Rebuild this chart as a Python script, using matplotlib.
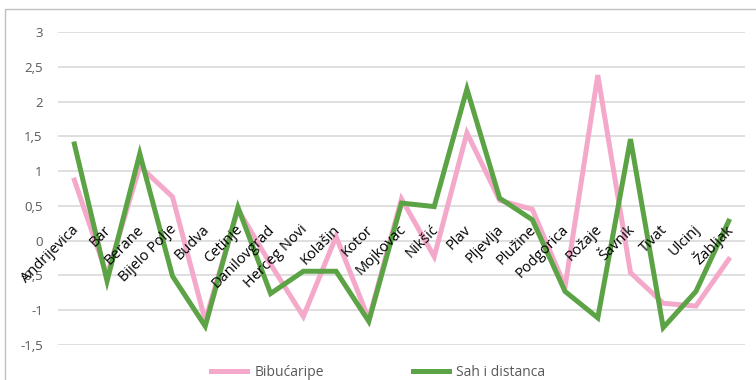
import matplotlib
matplotlib.use("Agg")
import matplotlib.pyplot as plt
from matplotlib.patches import Rectangle
from matplotlib.ticker import FuncFormatter

categories = ['Andrijevica', 'Bar', 'Berane', 'Bijelo Polje', 'Budva', 'Cetinje',
              'Danilovgrad', 'Herceg Novi', 'Kolašin', 'Kotor', 'Mojkovac', 'Nikšić',
              'Plav', 'Pljevlja', 'Plužine', 'Podgorica', 'Rožaje', 'Šavnik', 'Tivat',
              'Ulcinj', 'Žabljak']
bibucaripe = [0.87, -0.5, 1.07, 0.63, -1.15, 0.45, -0.34, -1.09, 0.06, -1.13, 0.60,
              -0.23, 1.55, 0.58, 0.45, -0.66, 2.38, -0.46, -0.90, -0.94, -0.27]
sah_i_distanca = [1.39, -0.58, 1.25, -0.51, -1.23, 0.48, -0.76, -0.44, -0.44, -1.16, 0.54,
                  0.49, 2.18, 0.61, 0.30, -0.73, -1.11, 1.46, -1.25, -0.73, 0.28]
series_names = ['Bibućaripe', 'Sah i distanca']
yticks = [-1.5, -1, -0.5, 0, 0.5, 1, 1.5, 2, 2.5, 3]

plt.rcParams['font.family'] = ['Open Sans', 'DejaVu Sans']

fig = plt.figure(figsize=(7.56, 3.8), dpi=100)
ax = fig.add_axes([58/756, 1-345/380, (745-58)/756, (345-32)/380])

x = list(range(len(categories)))
ax.plot(x, bibucaripe, color='#F4A9CA', lw=3.6, label=series_names[0],
        solid_joinstyle='miter', zorder=3)
ax.plot(x, sah_i_distanca, color='#5BA345', lw=3.6, label=series_names[1],
        solid_joinstyle='miter', zorder=4)

ax.set_xlim(-0.5, len(categories) - 0.5)
ax.set_ylim(-1.5, 3)
ax.set_yticks(yticks)
ax.yaxis.set_major_formatter(FuncFormatter(lambda v, p: ('%g' % v).replace('.', ',')))
ax.tick_params(axis='y', length=0, pad=11, labelsize=9.5, labelcolor='#595959')
ax.set_xticks([])
ax.grid(axis='y', color='#D9D9D9', lw=1.2, zorder=0)
for s in ax.spines.values():
    s.set_visible(False)

for i, c in enumerate(categories):
    ax.text(i + 0.06, 0.19, c, rotation=45, rotation_mode='anchor',
            ha='right', va='center', fontsize=10.5, color='black', zorder=5)

leg = fig.legend(loc='center', bbox_to_anchor=(378/756, 1-372/380), ncol=2,
                 frameon=False, fontsize=10, handlelength=2.6, columnspacing=6.4,
                 handletextpad=0.5, labelcolor='#595959')

fig.patches.append(Rectangle((5/756, -0.05), 2, 1.05 - 9/380, transform=fig.transFigure,
                             fill=False, edgecolor='#BFBFBF', lw=1))

fig.savefig('out.png', dpi=100)
